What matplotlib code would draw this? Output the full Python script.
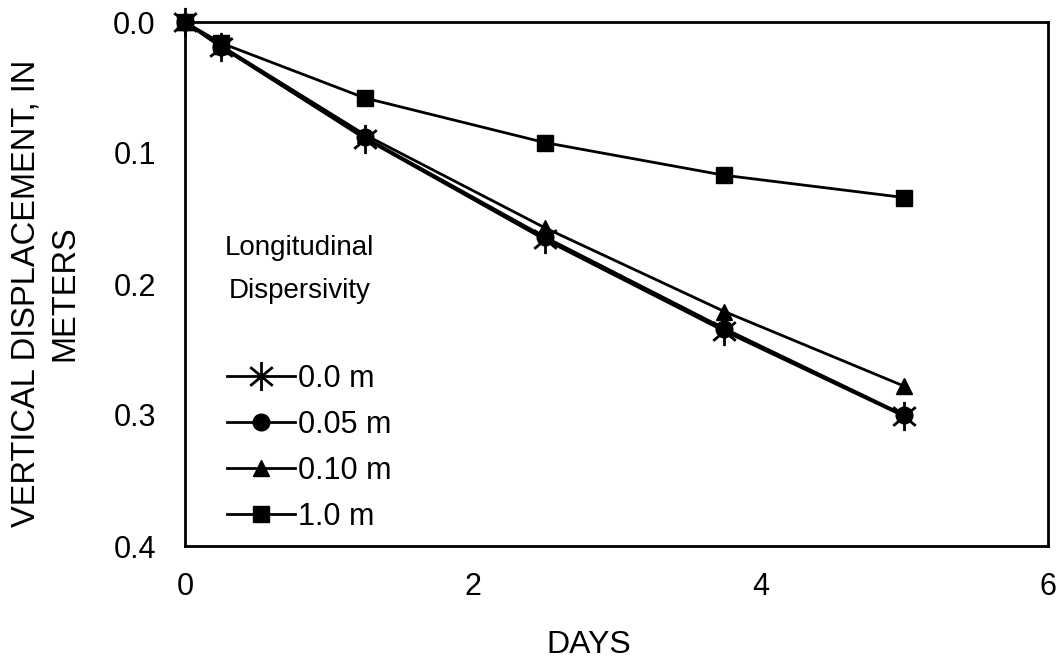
import matplotlib
matplotlib.use("Agg")
import matplotlib.pyplot as plt
from matplotlib.path import Path

plt.rcParams.update(
    {
        "font.family": ["Liberation Sans", "DejaVu Sans"],
        "font.size": 22,
    }
)

# data
days = [0.0, 0.25, 1.25, 2.5, 3.75, 5.0]
disp_00 = [0.0, 0.019, 0.089, 0.166, 0.236, 0.301]
disp_005 = [0.0, 0.019, 0.088, 0.164, 0.234, 0.300]
disp_010 = [0.0, 0.018, 0.086, 0.157, 0.221, 0.278]
disp_10 = [0.0, 0.016, 0.058, 0.092, 0.117, 0.134]
labels = ["0.0 m", "0.05 m", "0.10 m", "1.0 m"]

# asterisk: vertical bar plus an X
star = Path(
    [(0, -1), (0, 1), (-0.77, -0.64), (0.77, 0.64), (-0.77, 0.64), (0.77, -0.64)],
    [Path.MOVETO, Path.LINETO, Path.MOVETO, Path.LINETO, Path.MOVETO, Path.LINETO],
)

fig = plt.figure(figsize=(10.6, 6.62), dpi=100)
ax = fig.add_axes([185 / 1060, 1 - 546 / 662, 863 / 1060, 524 / 662])

line_kw = dict(color="black", linewidth=2.0, clip_on=False)
ax.plot(days, disp_00, marker=star, markersize=21, markeredgewidth=2.0,
        label=labels[0], **line_kw)
ax.plot(days, disp_005, marker="o", markersize=12, label=labels[1], **line_kw)
ax.plot(days, disp_010, marker="^", markersize=12, label=labels[2], **line_kw)
ax.plot(days, disp_10, marker="s", markersize=12, label=labels[3], **line_kw)

ax.set_xlim(0, 6)
ax.set_ylim(0.4, 0.0)
ax.set_xticks([0, 2, 4, 6])
ax.set_yticks([0.0, 0.1, 0.2, 0.3, 0.4])
ax.set_yticklabels(["0.0", "0.1", "0.2", "0.3", "0.4"])
ax.tick_params(axis="x", length=0, pad=19, labelsize=22)
ax.tick_params(axis="y", length=0, pad=21, labelsize=22)
for sp in ax.spines.values():
    sp.set_linewidth(2)

ax.set_xlabel("DAYS", fontsize=23)
ax.xaxis.set_label_coords(0.468, -0.16)
ax.set_ylabel("VERTICAL DISPLACEMENT, IN\nMETERS", fontsize=23.5, linespacing=1.35)
ax.yaxis.set_label_coords(-0.121, 0.482)

ax.text(0.133, 0.527, "Longitudinal\nDispersivity", transform=ax.transAxes,
        ha="center", va="center", multialignment="center", fontsize=20,
        linespacing=1.85)
ax.legend(loc="upper left", bbox_to_anchor=(0.049, 0.347), frameon=False,
          borderpad=0, borderaxespad=0, handlelength=2.2, handletextpad=0.1,
          labelspacing=0.52, fontsize=22)

fig.savefig("out.png", dpi=100)
